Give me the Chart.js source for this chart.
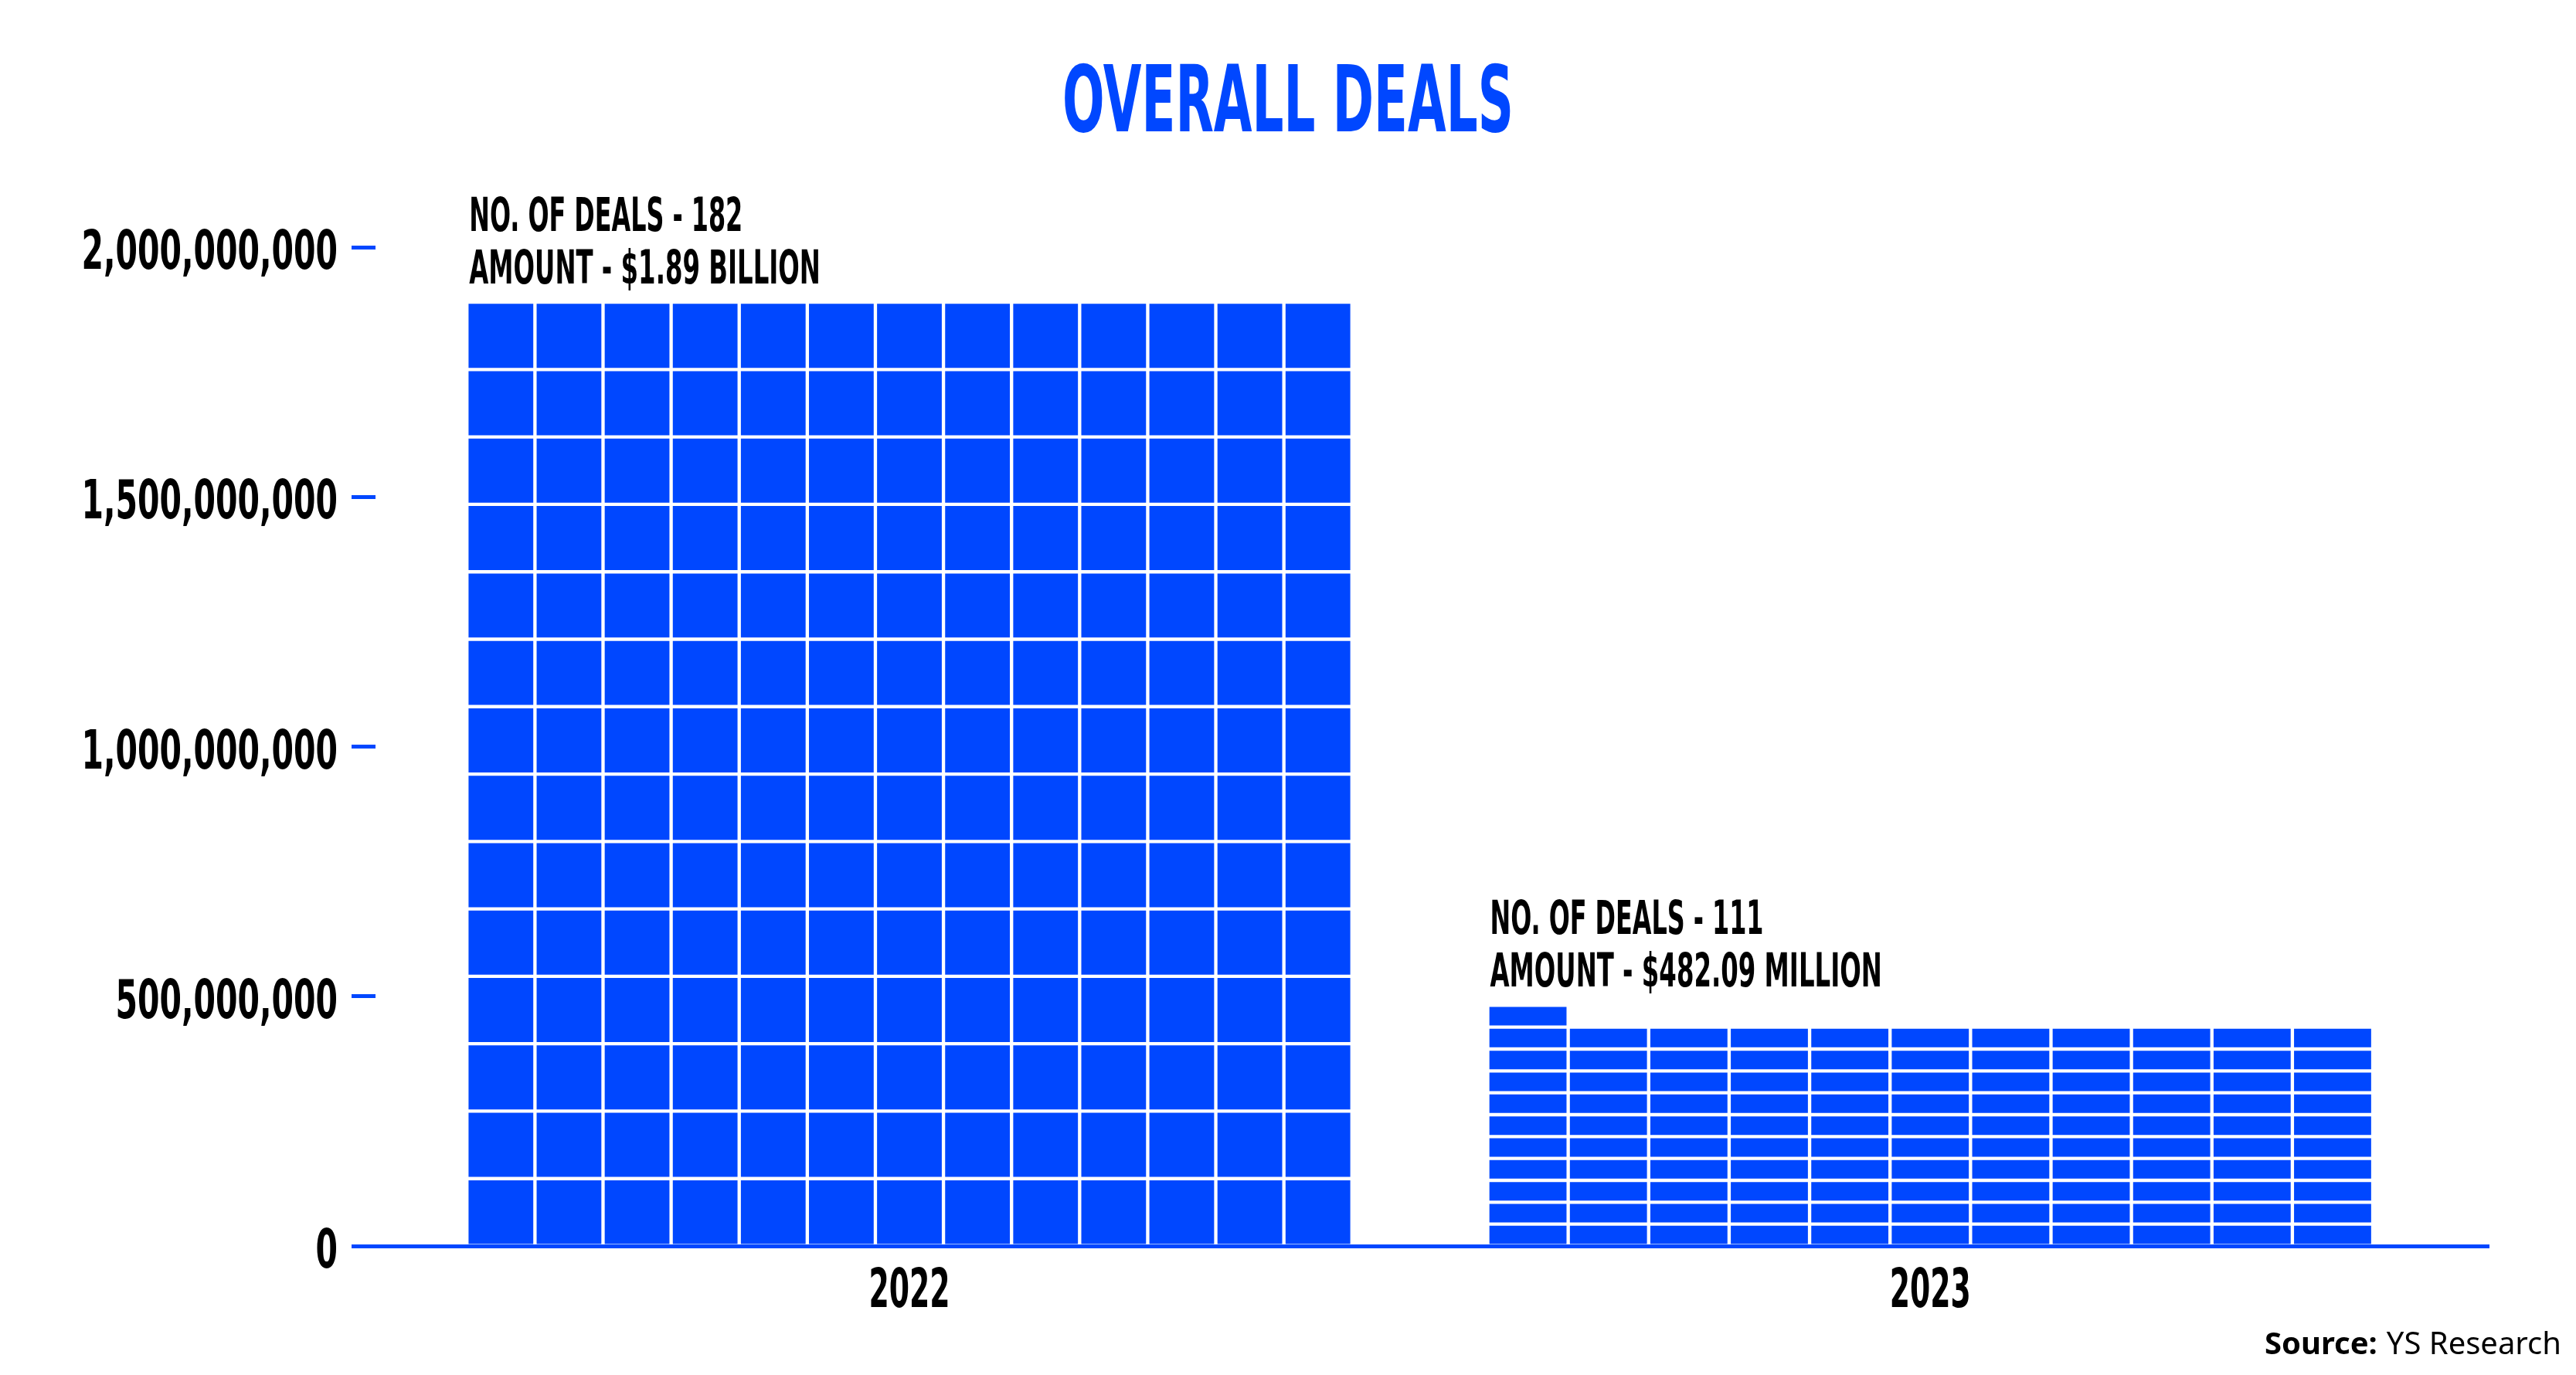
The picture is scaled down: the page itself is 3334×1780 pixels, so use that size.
<!DOCTYPE html>
<html>
<head>
<meta charset="utf-8">
<title>Overall Deals</title>
<script src="https://cdn.jsdelivr.net/npm/chart.js@4.4.1/dist/chart.umd.min.js"></script>
<style>
    html, body { margin: 0; padding: 0; background: #fff; }
    #wrap { width: 3334px; height: 1780px; position: relative; }
</style>
</head>
<body>
<div id="wrap"><canvas id="dealsChart"></canvas></div>
<script>
// values
const years = ["2022", "2023"];
const dealCounts = [182, 111];
const amounts = [1890000000, 482090000];
const amountLabels = ["$1.89 BILLION", "$482.09 MILLION"];
const waffleColumns = [13, 11];
const yTicks = [0, 500000000, 1000000000, 1500000000, 2000000000];

const BLUE = "#0047ff";
const CONDENSED = "'DejaVu Sans Condensed', 'DejaVu Sans', sans-serif";
const GROUP_WIDTH = 0.867; // share of one year slot taken by its waffle block
const axisIds = ["x", "x2"];

// one floating bar per deal, stacked into a waffle block for each year
function buildCells(i) {
    const cols = waffleColumns[i];
    const rows = Math.ceil(dealCounts[i] / cols);
    const step = amounts[i] / rows;
    const cells = [];
    for (let k = 0; k < dealCounts[i]; k++) {
        const c = k % cols;
        const r = Math.floor(k / cols);
        cells.push({
            x: i - GROUP_WIDTH / 2 + (c + 0.5) * GROUP_WIDTH / cols,
            y: [r * step, (r + 1) * step],
        });
    }
    return cells;
}

// the original uses a very narrow display face, so squeeze the text horizontally
function squeezedText(ctx, text, x, y, size, squeeze, color, align) {
    ctx.save();
    ctx.font = "bold " + size + "px " + CONDENSED;
    ctx.fillStyle = color;
    ctx.textAlign = align;
    ctx.textBaseline = "alphabetic";
    ctx.translate(x, y);
    ctx.scale(squeeze, 1);
    ctx.fillText(text, 0, 0);
    ctx.restore();
}

const overlayText = {
    id: "overlayText",
    afterDraw(chart) {
        const ctx = chart.ctx;
        const xs = chart.scales.x;
        const ys = chart.scales.y;
        const area = chart.chartArea;

        squeezedText(ctx, "OVERALL DEALS", chart.width / 2, 170, 119, 0.6, BLUE, "center");

        // axis labels at the library's tick positions
        ys.ticks.forEach((t, i) => {
            squeezedText(ctx, t.label, area.left - 49, ys.getPixelForTick(i) + 28, 70, 0.65, "#000", "right");
        });
        xs.ticks.forEach((t, i) => {
            squeezedText(ctx, t.label, xs.getPixelForTick(i), area.bottom + 79, 70, 0.6, "#000", "center");
        });

        years.forEach((year, i) => {
            const left = xs.getPixelForValue(i - GROUP_WIDTH / 2) + 3;
            const top = ys.getPixelForValue(amounts[i]);
            squeezedText(ctx, "NO. OF DEALS - " + dealCounts[i], left, top - 92, 60, 0.59, "#000", "left");
            squeezedText(ctx, "AMOUNT - " + amountLabels[i], left, top - 24, 60, 0.6, "#000", "left");
        });

        // source line, bottom right
        ctx.save();
        ctx.textBaseline = "alphabetic";
        ctx.textAlign = "right";
        ctx.fillStyle = "#000";
        ctx.font = "40px 'Noto Sans', sans-serif";
        const right = chart.width - 19;
        ctx.fillText("YS Research", right, 1753);
        const w = ctx.measureText("YS Research").width;
        ctx.font = "bold 40px 'Noto Sans', sans-serif";
        ctx.fillText("Source:", right - w - 12, 1753);
        ctx.restore();
    },
};

const yearTicks = (scale) => {
    scale.ticks = years.map((_, i) => ({ value: i }));
};

// a cell is as wide as one column step of its own block
const cellWidth = (ctx) => {
    const i = ctx.datasetIndex;
    const s = ctx.chart.scales[axisIds[i]];
    if (!s) return undefined;
    return Math.abs(s.getPixelForValue(GROUP_WIDTH / waffleColumns[i]) - s.getPixelForValue(0));
};

new Chart(document.getElementById("dealsChart"), {
    type: "bar",
    data: {
        datasets: years.map((year, i) => ({
            label: year,
            data: buildCells(i),
            xAxisID: axisIds[i],
            grouped: false, // each block sits on its own x values, no side-by-side offset
            backgroundColor: BLUE,
            borderColor: "#fff",
            borderWidth: 2.5,
            borderSkipped: (ctx) => (ctx.raw && ctx.raw.y[0] === 0 ? "start" : false),
            barThickness: cellWidth,
            barPercentage: 1,
            categoryPercentage: 1,
        })),
    },
    options: {
        responsive: true,
        maintainAspectRatio: false,
        devicePixelRatio: 1,
        animation: false,
        layout: { padding: { top: 320, right: 113, left: 0, bottom: 0 } },
        plugins: {
            legend: { display: false },
            tooltip: { enabled: false },
            title: { display: false },
        },
        scales: {
            x: {
                type: "linear",
                offset: false,
                min: -0.523,
                max: 1.547,
                afterBuildTicks: yearTicks,
                afterFit: (s) => { s.height = 167; },
                grid: { display: false, drawTicks: false },
                border: { color: BLUE, width: 5 },
                ticks: { display: false, callback: (v, i) => years[i] },
            },
            x2: {
                type: "linear",
                display: false,
                offset: false,
                min: -0.523,
                max: 1.547,
                afterBuildTicks: yearTicks,
            },
            y: {
                min: 0,
                max: 2000000000,
                afterBuildTicks: (s) => { s.ticks = yTicks.map((v) => ({ value: v })); },
                afterFit: (s) => { s.width = 486; },
                border: { display: false },
                grid: { drawOnChartArea: false, color: BLUE, lineWidth: 5, tickLength: 31 },
                ticks: { display: false, callback: (v) => v.toLocaleString("en-US") },
            },
        },
    },
    plugins: [overlayText],
});
</script>
</body>
</html>
